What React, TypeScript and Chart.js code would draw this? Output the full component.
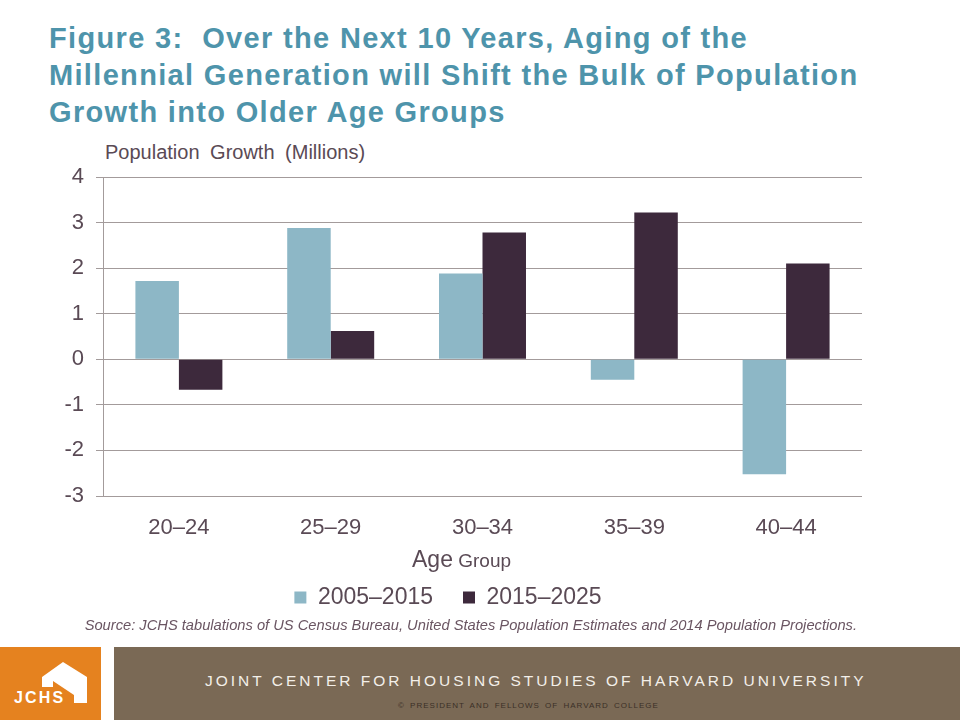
import React, { useEffect, useRef } from "react";
import { Chart, registerables } from "chart.js";

Chart.register(...registerables);

const categories = ["20–24", "25–29", "30–34", "35–39", "40–44"];
const seriesNames = ["2005–2015", "2015–2025"];
const growth2005to2015 = [1.72, 2.88, 1.88, -0.45, -2.52];
const growth2015to2025 = [-0.67, 0.62, 2.78, 3.22, 2.1];
const yMin = -3;
const yMax = 4;
const yStep = 1;

const FONT = "'Liberation Sans', Arial, sans-serif";
const TEXT = "#5a4a55";
const GRID = "#a39b9b";
const LIGHT = "#8db7c6";
const DARK = "#3d293c";
const TITLE = "#4e94ab";

export default function App() {
  const ref = useRef<HTMLCanvasElement | null>(null);

  useEffect(() => {
    if (!ref.current) return;
    const chart = new Chart(ref.current, {
      type: "bar",
      data: {
        labels: categories,
        datasets: [
          {
            label: seriesNames[0],
            data: growth2005to2015,
            backgroundColor: LIGHT,
            borderWidth: 0,
            barPercentage: 1,
            categoryPercentage: 0.573,
          },
          {
            label: seriesNames[1],
            data: growth2015to2025,
            backgroundColor: DARK,
            borderWidth: 0,
            barPercentage: 1,
            categoryPercentage: 0.573,
          },
        ],
      },
      options: {
        responsive: false,
        animation: false,
        layout: { padding: { left: 34, right: 98, top: 177, bottom: 101 } },
        plugins: {
          tooltip: { enabled: false },
          title: { display: false },
          legend: {
            display: true,
            position: "bottom",
            labels: {
              boxWidth: 12,
              boxHeight: 12,
              padding: 30,
              color: TEXT,
              font: { family: FONT, size: 23 },
            },
          },
        },
        scales: {
          x: {
            grid: { display: false },
            border: { display: false },
            ticks: {
              color: TEXT,
              font: { family: FONT, size: 22 },
              padding: 11,
            },
            afterFit: (scale: any) => {
              scale.height = 60;
            },
          },
          y: {
            min: yMin,
            max: yMax,
            ticks: {
              stepSize: yStep,
              color: TEXT,
              font: { family: FONT, size: 22 },
              padding: 12,
            },
            grid: { color: GRID, lineWidth: 1, tickLength: 7 },
            border: { display: true, color: GRID, width: 1 },
            afterFit: (scale: any) => {
              scale.width = 69;
            },
          },
        },
      },
    });
    return () => chart.destroy();
  }, []);

  return (
    <div
      style={{
        position: "absolute",
        left: 0,
        top: 0,
        width: 960,
        height: 720,
        background: "#ffffff",
        overflow: "hidden",
        fontFamily: FONT,
      }}
    >
      <div
        style={{
          position: "absolute",
          left: 49,
          top: 20,
          color: TITLE,
          fontWeight: "bold",
          fontSize: 29,
          letterSpacing: 1.33,
          lineHeight: "37px",
          whiteSpace: "nowrap",
        }}
      >
        <div>Figure 3:&nbsp; Over the Next 10 Years, Aging of the</div>
        <div>Millennial Generation will Shift the Bulk of Population</div>
        <div>Growth into Older Age Groups</div>
      </div>
      <div
        style={{
          position: "absolute",
          left: 105,
          top: 141,
          color: TEXT,
          fontSize: 20,
          lineHeight: "22px",
          wordSpacing: 5,
          whiteSpace: "nowrap",
        }}
      >
        Population Growth (Millions)
      </div>
      <canvas
        ref={ref}
        width={960}
        height={720}
        style={{ position: "absolute", left: 0, top: 0, width: 960, height: 720 }}
      />
      <div
        style={{
          position: "absolute",
          left: 412,
          top: 545,
          color: TEXT,
          whiteSpace: "nowrap",
          lineHeight: "28px",
        }}
      >
        <span style={{ fontSize: 23 }}>Age</span>
        <span style={{ fontSize: 19 }}> Group</span>
      </div>
      <div
        style={{
          position: "absolute",
          right: 103,
          top: 616,
          color: "#6a5562",
          fontStyle: "italic",
          fontSize: 14.7,
          lineHeight: "18px",
          whiteSpace: "nowrap",
        }}
      >
        Source: JCHS tabulations of US Census Bureau, United States Population Estimates and 2014 Population Projections.
      </div>
      <div
        style={{
          position: "absolute",
          left: 0,
          top: 647,
          width: 101,
          height: 73,
          background: "#e5821f",
        }}
      >
        <svg width={101} height={73} style={{ position: "absolute", left: 0, top: 0 }}>
          <polygon
            points="42,30 63,15 87,30 87,56 74,56 74,48 53,34 53,40 42,40"
            fill="#ffffff"
          />
        </svg>
        <div
          style={{
            position: "absolute",
            left: 14,
            top: 43,
            color: "#ffffff",
            fontWeight: "bold",
            fontSize: 16,
            letterSpacing: 2.2,
            lineHeight: "16px",
          }}
        >
          JCHS
        </div>
      </div>
      <div
        style={{
          position: "absolute",
          left: 114,
          top: 647,
          width: 846,
          height: 73,
          background: "#7a6955",
        }}
      >
        <div
          style={{
            position: "absolute",
            left: 91,
            top: 25,
            color: "#f3efe9",
            fontSize: 15.5,
            letterSpacing: 3.0,
            lineHeight: "18px",
            whiteSpace: "nowrap",
          }}
        >
          JOINT CENTER FOR HOUSING STUDIES OF HARVARD UNIVERSITY
        </div>
        <div
          style={{
            position: "absolute",
            left: 284,
            top: 54,
            color: "#3b3027",
            fontSize: 8,
            letterSpacing: 1.0,
            lineHeight: "10px",
            wordSpacing: 2,
            whiteSpace: "nowrap",
          }}
        >
          © PRESIDENT AND FELLOWS OF HARVARD COLLEGE
        </div>
      </div>
    </div>
  );
}
